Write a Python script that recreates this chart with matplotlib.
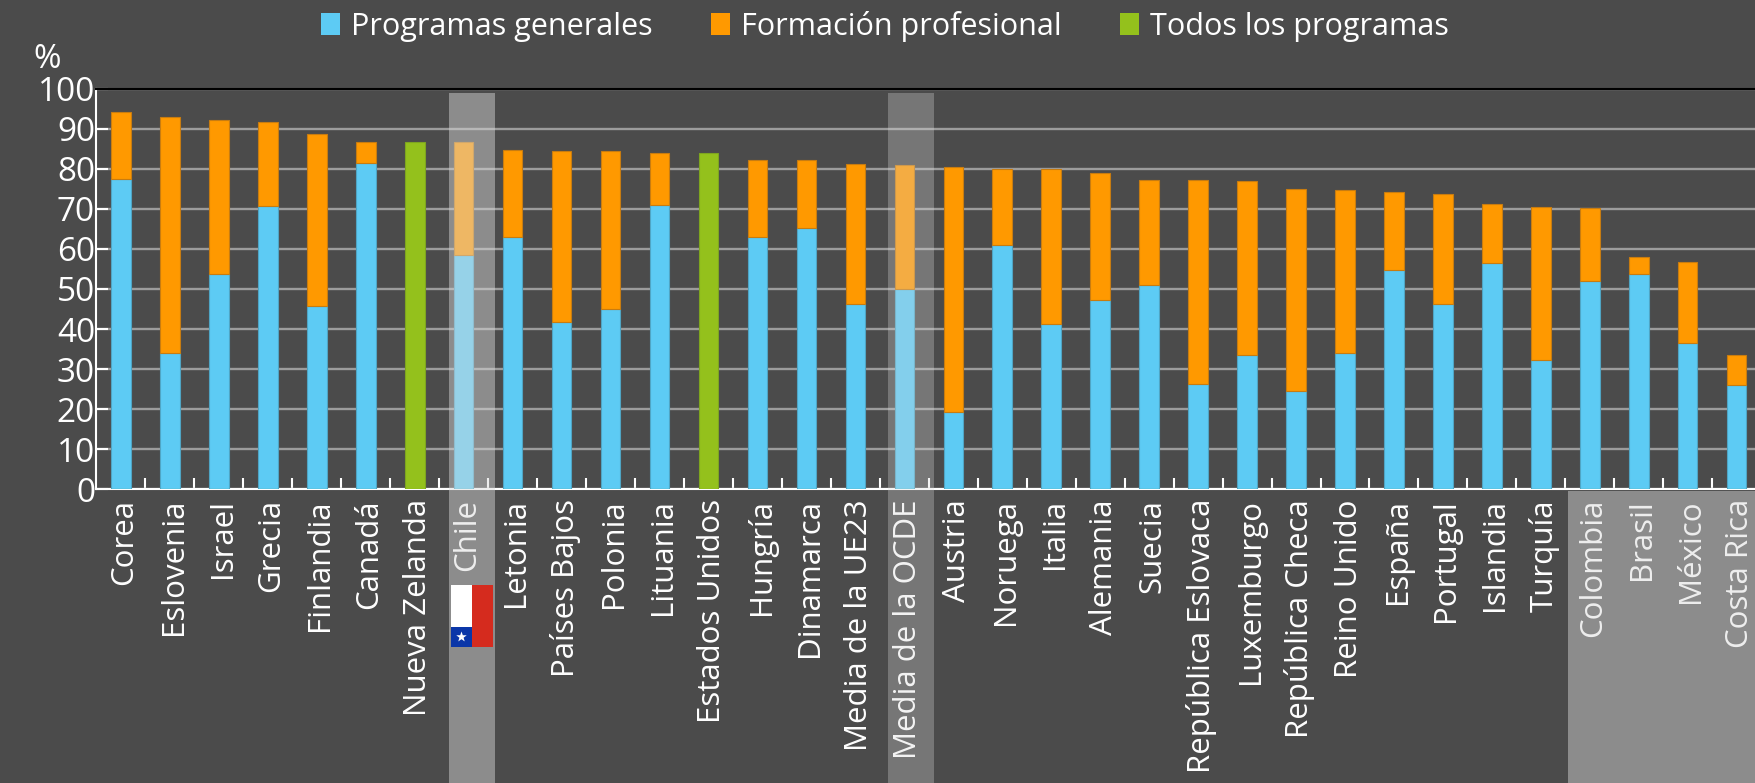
import matplotlib
matplotlib.use("Agg")
import matplotlib.pyplot as plt
from matplotlib.patches import Rectangle, Polygon
from matplotlib.transforms import ScaledTranslation
import numpy as np

paises = ["Corea","Eslovenia","Israel","Grecia","Finlandia","Canadá","Nueva Zelanda","Chile","Letonia",
          "Países Bajos","Polonia","Lituania","Estados Unidos","Hungría","Dinamarca","Media de la UE23",
          "Media de la OCDE","Austria","Noruega","Italia","Alemania","Suecia","República Eslovaca",
          "Luxemburgo","República Checa","Reino Unido","España","Portugal","Islandia","Turquía",
          "Colombia","Brasil","México","Costa Rica"]
generales = [77.5,34.0,53.8,70.7,45.7,81.5,0,58.5,63.0,41.8,45.0,71.0,0,63.0,65.2,46.2,50.0,19.3,61.0,41.2,
             47.3,51.0,26.2,33.5,24.5,33.9,54.7,46.2,56.4,32.4,52.1,53.7,36.4,26.0]
profesional = [16.8,59.0,38.4,20.9,43.0,5.3,0,28.2,21.7,42.7,39.4,13.0,0,19.3,17.0,35.1,31.0,61.2,19.0,38.7,
               31.7,26.3,51.0,43.5,50.5,40.9,19.6,27.5,14.7,38.1,18.1,4.2,20.3,7.4]
todos = [0,0,0,0,0,0,86.8,0,0,0,0,0,84.0,0,0,0,0,0,0,0,0,0,0,0,0,0,0,0,0,0,0,0,0,0]
yticks = list(range(0, 101, 10))

W, H = 1756, 783
BG = "#4B4B4B"
BLUE, ORANGE, GREEN = "#5DCBF4", "#FF9900", "#94C11C"
FONT = ["Open Sans", "DejaVu Sans"]
plt.rcParams["font.family"] = FONT

fig = plt.figure(figsize=(W/100, H/100), dpi=100, facecolor=BG)
def fx(p): return p / W
def fy(p): return 1 - p / H

ax_l, ax_t, ax_b = 96.5, 88.7, 489.3
ax = fig.add_axes([fx(ax_l), fy(ax_b), 1 - fx(ax_l), (ax_b - ax_t)/H], facecolor=BG, zorder=1)
x = np.arange(len(paises))
g, p, t = np.array(generales), np.array(profesional), np.array(todos)
kw = dict(width=0.4, linewidth=0.8, zorder=3)
ax.bar(x, g, color=BLUE, edgecolor="#4FA5C4", label="Programas generales", **kw)
ax.bar(x, p, bottom=g, color=ORANGE, edgecolor="#C87C10", label="Formación profesional", **kw)
ax.bar(x, t, color=GREEN, edgecolor="#7EA520", label="Todos los programas", **kw)

ax.set_xlim(-0.5, -0.5 + (W - ax_l)/48.96)
ax.set_ylim(0, 100)
ax.set_yticks(yticks)
ax.set_yticklabels([str(v) for v in yticks], fontsize=24, color="white")
ax.set_xticks(x)
ax.set_xticklabels(paises, rotation=90, fontsize=22.5, color="white", ha="center", va="top")
ax.set_xticks(x[:-1] + 0.5, minor=True)
ax.tick_params(axis="x", which="major", length=0, pad=7)
ax.tick_params(axis="x", which="minor", direction="in", length=8, width=1.5, color="white")
ax.tick_params(axis="y", direction="in", length=8.5, width=1.5, color="white", pad=1)
shift = ScaledTranslation(3.6/100, 0, fig.dpi_scale_trans)
for lab in ax.get_xticklabels():
    lab.set_transform(lab.get_transform() + shift)
ax.yaxis.grid(True, color="#9C9C9C", linewidth=1.7, zorder=1)
ax.set_axisbelow(True)
ax.spines["right"].set_visible(False)
ax.spines["top"].set_color("black"); ax.spines["top"].set_linewidth(1.5)
for s in ["left", "bottom"]:
    ax.spines[s].set_color("white"); ax.spines[s].set_linewidth(1.5)

def band(x0, x1, y0, y1, alpha):
    fig.add_artist(Rectangle((fx(x0), fy(y1)), (x1-x0)/W, (y1-y0)/H, transform=fig.transFigure,
                             facecolor="#DBDBDB", alpha=alpha, edgecolor="none", zorder=5))
band(449, 495, 93, H, 0.46)
band(888, 934, 93, H, 0.30)
band(1568, W, 491, H, 0.46)

def frect(x0, y0, x1, y1, c):
    fig.add_artist(Rectangle((fx(x0), fy(y1)), (x1-x0)/W, (y1-y0)/H, transform=fig.transFigure,
                             facecolor=c, edgecolor="none", zorder=6))
frect(451, 585, 472, 627, "white")
frect(451, 627, 472, 647, "#0A36A8")
frect(472, 585, 493, 647, "#D52B1E")
th = np.linspace(0, 2*np.pi, 11)[:-1] + np.pi/2
rr = np.where(np.arange(10) % 2 == 0, 5.5, 2.2)
fig.add_artist(Polygon(np.c_[fx(461.5) + rr*np.cos(th)/W, fy(637) + rr*np.sin(th)/H],
                       closed=True, transform=fig.transFigure, facecolor="white", edgecolor="none", zorder=7))

fig.text(fx(33), fy(60), "%", fontsize=24, color="white", ha="left", va="center")

handles = [Rectangle((0, 0), 1, 1, facecolor=c) for c in (BLUE, ORANGE, GREEN)]
fig.legend(handles, ["Programas generales", "Formación profesional", "Todos los programas"],
           loc="center", bbox_to_anchor=(fx(885), fy(26)), ncol=3, frameon=False, fontsize=22,
           labelcolor="white", handlelength=0.62, handleheight=0.7, handletextpad=0.36, columnspacing=1.9)
fig.savefig("out.png", dpi=100, facecolor=BG)
